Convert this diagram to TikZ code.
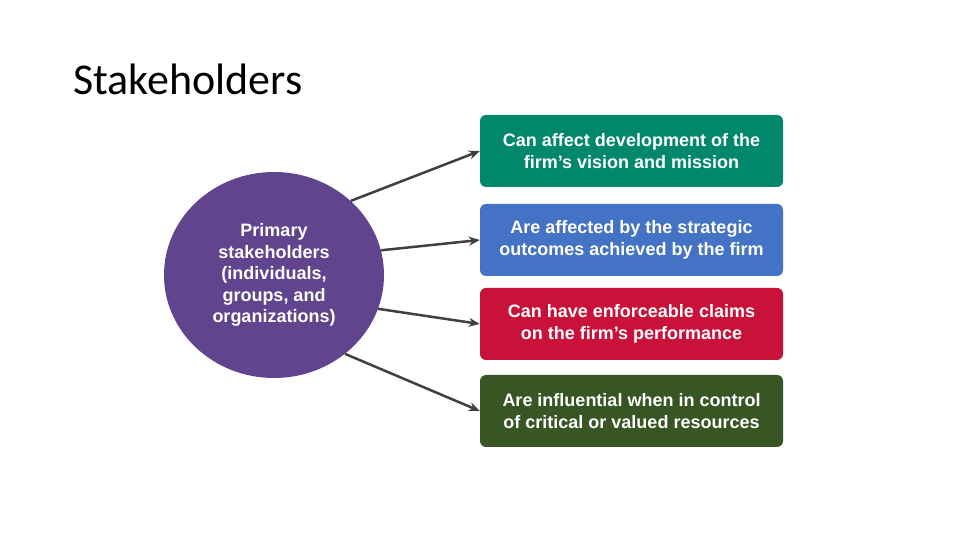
\documentclass[tikz,border=0pt]{standalone}
\usepackage{fontspec}
\setmainfont{Liberation Sans}
\newfontfamily\titlefont{Carlito}
\usetikzlibrary{arrows.meta,shapes.geometric}
\definecolor{visiongreen}{RGB}{0,135,108}
\definecolor{outcomeblue}{RGB}{68,114,196}
\definecolor{claimred}{RGB}{200,18,58}
\definecolor{resourcegreen}{RGB}{55,86,35}
\definecolor{stakepurple}{RGB}{96,68,142}
\definecolor{arrowgray}{RGB}{64,64,64}
\tikzset{
  roundbox/.style={rounded corners=6pt, minimum width=303pt, minimum height=72pt,
    text=white, font=\bfseries\fontsize{18}{22}\selectfont, align=center, inner sep=0pt},
  linkarrow/.style={draw=arrowgray, line width=2.5pt, -{Stealth[length=11pt,width=9pt]}}
}
\begin{document}
\begin{tikzpicture}[x=1pt, y=1pt]
  \useasboundingbox (0,0) rectangle (960,540);
  \node[anchor=base west, inner sep=0pt, font=\titlefont\fontsize{44}{52}\selectfont] (title) at (73,445) {Stakeholders};
  \node[ellipse, fill=stakepurple, minimum width=220pt, minimum height=206pt, inner sep=0pt,
    text=white, font=\bfseries\fontsize{18}{21.5}\selectfont, align=center] (primary) at (274,265)
    {Primary\\stakeholders\\(individuals,\\groups, and\\organizations)};
  \node[roundbox, fill=visiongreen] (vision) at (631.5,389) {Can affect development of the\\firm’s vision and mission};
  \node[roundbox, fill=outcomeblue] (outcomes) at (631.5,300) {Are affected by the strategic\\outcomes achieved by the firm};
  \node[roundbox, fill=claimred] (claims) at (631.5,216) {Can have enforceable claims\\on the firm’s performance};
  \node[roundbox, fill=resourcegreen] (resources) at (631.5,129) {Are influential when in control\\of critical or valued resources};
  % arrows from the circle to the boxes
  \draw[linkarrow] (primary.44) -- (vision.west);
  \draw[linkarrow] (primary.13) -- (outcomes.west);
  \draw[linkarrow] (primary.-18) -- (claims.west);
  \draw[linkarrow] (primary.-48) -- (resources.west);
\end{tikzpicture}
\end{document}
